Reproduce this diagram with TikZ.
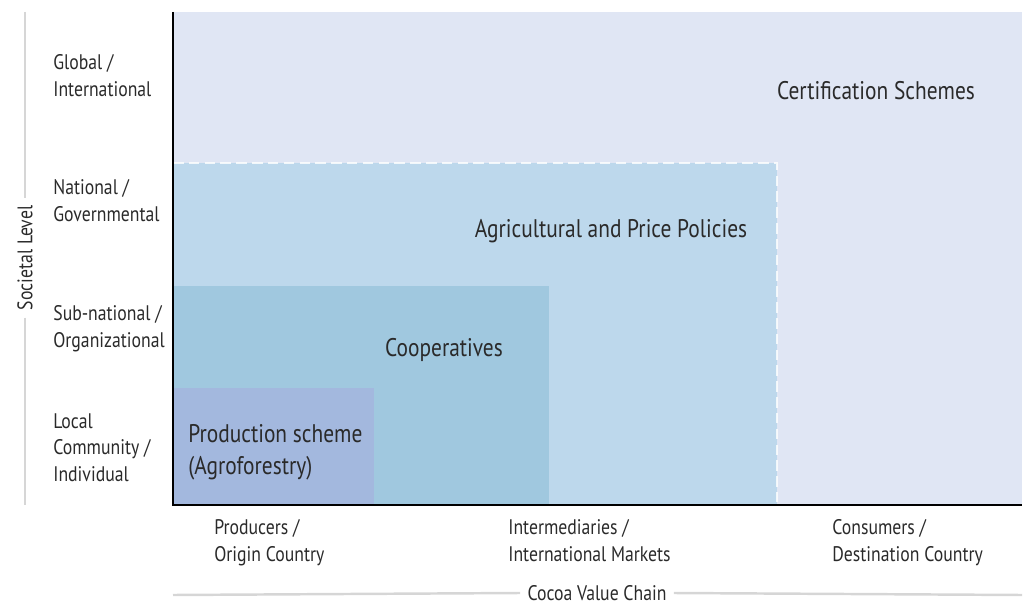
\documentclass[tikz,border=0pt]{standalone}
\usepackage{fontspec}
\setmainfont[FakeStretch=0.84]{PT Sans}
\definecolor{certfill}{HTML}{E0E6F4}
\definecolor{policyfill}{HTML}{BDD8EC}
\definecolor{coopfill}{HTML}{A0C8DF}
\definecolor{prodfill}{HTML}{A3B8DE}
\definecolor{inkgray}{HTML}{2A2A2A}
\definecolor{rulegray}{HTML}{D6D6D6}
\tikzset{
  level/.style={anchor=north west, align=left, text=inkgray, inner sep=0pt,
    font=\fontsize{12}{15.2}\selectfont},
  stage/.style={level},
  scheme/.style={text=inkgray, inner sep=0pt, font=\fontsize{14.5}{18.2}\selectfont},
  axis/.style={line width=1.6pt, black},
  guide/.style={line width=1.4pt, rulegray}
}
\begin{document}
\begin{tikzpicture}[x=0.02cm,y=-0.02cm]
  \useasboundingbox (0,0) rectangle (1024,604);
  % nested boxes
  \fill[certfill] (173,12) rectangle (1022,505);
  \fill[policyfill] (173,163) rectangle (777,505);
  \draw[white, line width=0.8pt, dash pattern=on 6pt off 3pt, opacity=0.8]
    (173,163) -- (777,163) -- (777,505);
  \fill[coopfill] (173,286) rectangle (549,505);
  \fill[prodfill] (173,388) rectangle (374,505);
  % axes
  \coordinate (top) at (173,12);
  \coordinate (origin) at (173,505);
  \coordinate (right) at (1022,505);
  \draw[axis] (top) -- (origin) -- (right);
  % scheme labels
  \node[scheme] (cert) at (876,91) {Certification Schemes};
  \node[scheme] (policy) at (611,231) {Agricultural and Price Policies};
  \node[scheme] (coop) at (444,350) {Cooperatives};
  \node[scheme, anchor=west, align=left] (prod) at (188,452)
    {Production scheme\\(Agroforestry)};
  % societal levels
  \node[level] (global) at (53,54) {Global /\\International};
  \node[level] (national) at (53,179) {National /\\Governmental};
  \node[level] (subnat) at (53,305) {Sub-national /\\Organizational};
  \node[level] (local) at (53,413) {Local\\Community /\\Individual};
  % value chain stages
  \node[stage] (producers) at (214,519) {Producers /\\Origin Country};
  \node[stage] (intermed) at (508,519) {Intermediaries /\\International Markets};
  \node[stage] (consumers) at (832,519) {Consumers /\\Destination Country};
  % axis titles
  \node[text=inkgray, rotate=90, inner sep=4pt, font=\fontsize{12}{14}\selectfont]
    (societal) at (25,258) {Societal Level};
  \coordinate (sl top) at (25,12);
  \coordinate (sl bottom) at (25,505);
  \draw[guide] (sl top) -- (societal.east);
  \draw[guide] (societal.west) -- (sl bottom);
  \node[text=inkgray, inner sep=4pt, font=\fontsize{12}{14}\selectfont]
    (chain) at (597,593) {Cocoa Value Chain};
  \coordinate (vc left) at (173,595);
  \coordinate (vc right) at (1022,595);
  \draw[guide] (vc left) -- (chain.west);
  \draw[guide] (chain.east) -- (vc right);
\end{tikzpicture}
\end{document}
